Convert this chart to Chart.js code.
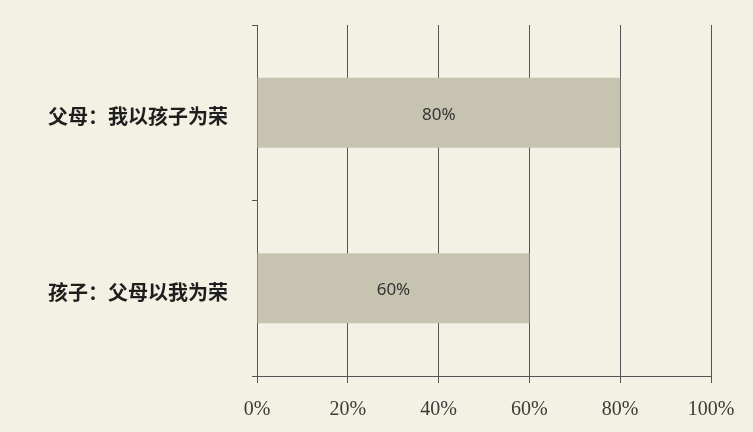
<!DOCTYPE html>
<html>
<head>
<meta charset="utf-8">
<script src="https://cdn.jsdelivr.net/npm/chart.js@4/dist/chart.umd.min.js"></script>
<style>
  html, body { margin: 0; padding: 0; background: #f3f1e3; }
  #chart { display: block; }
</style>
</head>
<body>
<canvas id="chart" width="753" height="432"></canvas>
<script>
// Parent/child pride survey — horizontal bars

const categories = ['父母：我以孩子为荣', '孩子：父母以我为荣'];
const percents   = [80, 60];
const xTicks     = [0, 20, 40, 60, 80, 100];

const lineColor = '#555';

// value text drawn in the middle of each bar
const barValueLabels = {
  id: 'barValueLabels',
  afterDatasetsDraw(chart) {
    const ctx = chart.ctx;
    const meta = chart.getDatasetMeta(0);
    ctx.save();
    ctx.font = '17px "Noto Sans", sans-serif';
    ctx.fillStyle = '#333';
    ctx.textAlign = 'center';
    ctx.textBaseline = 'middle';
    meta.data.forEach((bar, i) => {
      const { x, y, base } = bar.getProps(['x', 'y', 'base'], true);
      ctx.fillText(percents[i] + '%', (x + base) / 2, y + 2);
    });
    ctx.restore();
  },
};

new Chart(document.getElementById('chart'), {
  type: 'bar',
  data: {
    labels: categories,
    datasets: [{
      data: percents,
      backgroundColor: '#c6c3b0',
      borderWidth: 0,
      categoryPercentage: 1,
      barPercentage: 0.4,
    }],
  },
  options: {
    indexAxis: 'y',
    responsive: false,
    animation: false,
    layout: { padding: { top: 25, right: 42, bottom: 0, left: 0 } },
    plugins: {
      legend:  { display: false },
      tooltip: { enabled: false },
    },
    scales: {
      x: {
        min: 0,
        max: 100,
        afterBuildTicks: s => { s.ticks = xTicks.map(v => ({ value: v })); },
        afterFit: s => { s.height = 56; },
        grid:   { color: lineColor, lineWidth: 1, tickLength: 7 },
        border: { color: lineColor, width: 1 },
        ticks: {
          color: '#3a3a3a',
          padding: 15,
          font: { family: '"Liberation Serif", serif', size: 20 },
          callback: v => v + '%',
        },
      },
      y: {
        afterFit: s => { s.width = 257; },
        grid:   { display: true, drawOnChartArea: false, color: lineColor, tickLength: 5 },
        border: { color: lineColor, width: 1 },
        ticks: {
          color: '#1e1e1e',
          padding: 24,
          labelOffset: 4,
          // tiny lineHeight so the label padding doesn't push the chart top down
          font: { family: '"Noto Sans CJK SC", sans-serif', size: 20, weight: 'bold', lineHeight: 0.05 },
        },
      },
    },
  },
  plugins: [barValueLabels],
});
</script>
</body>
</html>
